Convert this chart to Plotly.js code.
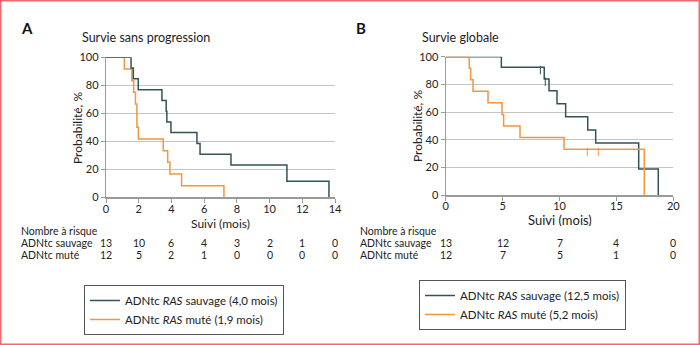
<!DOCTYPE html>
<html>
<head>
<meta charset="utf-8">
<script src="https://cdn.plot.ly/plotly-3.0.1.min.js"></script>
<style>html,body{margin:0;padding:0;background:#fff;}#chart{width:700px;height:345px;}</style>
</head>
<body>
<div id="chart"></div>
<script>
// ---- Panel A : Survie sans progression ----
const aWildTime = [0, 1.53, 1.67, 1.97, 3.42, 3.68, 3.72, 3.97, 5.56, 5.75, 7.64, 11.06, 13.63];
const aWildSurv = [100, 92.3, 84.6, 76.9, 69.2, 61.5, 53.8, 46.2, 38.5, 30.8, 23.1, 11.5, 0];
const aMutTime  = [0, 1.12, 1.58, 1.69, 1.80, 1.89, 1.98, 3.50, 3.77, 3.91, 4.62, 7.21];
const aMutSurv  = [100, 91.7, 83.3, 75.0, 66.7, 50.0, 41.7, 33.3, 25.0, 16.7, 8.3, 0];
const aRiskTimes = [0, 2, 4, 6, 8, 10, 12, 14];
const aRiskWild  = [13, 10, 6, 4, 3, 2, 1, 0];
const aRiskMut   = [12, 5, 2, 1, 0, 0, 0, 0];

// ---- Panel B : Survie globale ----
const bWildTime = [0, 4.89, 8.66, 9.08, 9.78, 10.54, 12.48, 13.18, 16.96, 18.68];
const bWildSurv = [100, 92.3, 84.0, 75.5, 66.0, 56.6, 47.2, 37.7, 18.9, 0];
const bWildCensTime = [8.32, 8.75];
const bWildCensSurv = [92.3, 84.0];
const bMutTime  = [0, 2.07, 2.19, 2.40, 3.72, 4.95, 5.09, 6.53, 10.40, 17.45];
const bMutSurv  = [100, 91.7, 83.3, 75.0, 66.7, 58.3, 50.0, 41.7, 33.3, 0];
const bMutCensTime = [12.44, 13.41];
const bMutCensSurv = [33.3, 33.3];
const bRiskTimes = [0, 5, 10, 15, 20];
const bRiskWild  = [13, 12, 7, 4, 0];
const bRiskMut   = [12, 7, 5, 1, 0];

const labelsWildA = 'ADNtc <i>RAS</i> sauvage (4,0 mois)';
const labelsMutA  = 'ADNtc <i>RAS</i> muté (1,9 mois)';
const labelsWildB = 'ADNtc <i>RAS</i> sauvage (12,5 mois)';
const labelsMutB  = 'ADNtc <i>RAS</i> muté (5,2 mois)';

const DARK = '#33525a';
const ORANGE = '#f4953f';
const FONT = 'Lato, Noto Sans, sans-serif';
const TXT = '#222';

const W = 700, H = 345;
const px = v => v / W;
const py = v => (H - v) / H;

const traces = [
  {x: aMutTime, y: aMutSurv, xaxis: 'x', yaxis: 'y', mode: 'lines', line: {shape: 'hv', color: ORANGE, width: 1.5}, name: labelsMutA, legend: 'legend', legendrank: 2},
  {x: aWildTime, y: aWildSurv, xaxis: 'x', yaxis: 'y', mode: 'lines', line: {shape: 'hv', color: DARK, width: 1.5}, name: labelsWildA, legend: 'legend', legendrank: 1},
  {x: bWildTime, y: bWildSurv, xaxis: 'x2', yaxis: 'y2', mode: 'lines', line: {shape: 'hv', color: DARK, width: 1.5}, name: labelsWildB, legend: 'legend2', legendrank: 1},
  {x: bMutTime, y: bMutSurv, xaxis: 'x2', yaxis: 'y2', mode: 'lines', line: {shape: 'hv', color: ORANGE, width: 1.5}, name: labelsMutB, legend: 'legend2', legendrank: 2},
  {x: bWildCensTime, y: bWildCensSurv.map(v => v - 2), xaxis: 'x2', yaxis: 'y2', mode: 'markers', showlegend: false,
   marker: {symbol: 'line-ns', size: 6, line: {color: DARK, width: 1}}},
  {x: bMutCensTime, y: bMutCensSurv.map(v => v - 2), xaxis: 'x2', yaxis: 'y2', mode: 'markers', showlegend: false,
   marker: {symbol: 'line-ns', size: 6, line: {color: ORANGE, width: 1}}}
];

const axisCommon = {
  showline: true, linecolor: '#9a9a9a', linewidth: 1.2,
  ticks: 'outside', ticklen: 4, tickcolor: '#9a9a9a', tickwidth: 1,
  zeroline: false, fixedrange: true,
  tickfont: {family: FONT, size: 11, color: TXT}
};

const annotations = [];
function addText(text, x, y, opts) {
  annotations.push(Object.assign({text: text, x: x, y: y, xref: 'paper', yref: 'paper',
    showarrow: false, font: {family: FONT, size: 11, color: TXT}, xanchor: 'left', yanchor: 'middle',
    borderpad: 0}, opts || {}));
}
const RFONT = {family: FONT, size: 10.5, color: TXT};
const ROW = {height: 12, borderpad: 0, font: RFONT};
// Panel letters and titles
addText('<b>A</b>', px(20), py(28), {font: {family: FONT, size: 15, color: '#111'}});
addText('<b>B</b>', px(355), py(28), {font: {family: FONT, size: 15, color: '#111'}});
addText('Survie sans progression', px(81), py(37), {font: {family: FONT, size: 12.5, color: TXT}});
addText('Survie globale', px(421), py(37), {font: {family: FONT, size: 12.5, color: TXT}});
// Axis titles
addText('Probabilité, %', px(77), py(128), {textangle: -90, xanchor: 'center', font: {family: FONT, size: 12, color: TXT}});
addText('Probabilité, %', px(417), py(126), {textangle: -90, xanchor: 'center', font: {family: FONT, size: 12, color: TXT}});
addText('Suivi (mois)', px(220.5), py(223.5), {xanchor: 'center', height: 13, font: {family: FONT, size: 12, color: TXT}});
addText('Suivi (mois)', px(560), py(219), {xanchor: 'center', height: 13, font: {family: FONT, size: 13, color: TXT}});
// Risk tables
const R0 = 230.5, R1 = 242.5, R2 = 254.5;
addText('Nombre à risque', px(20), py(R0), ROW);
addText('ADNtc sauvage', px(20), py(R1), ROW);
addText('ADNtc muté', px(20), py(R2), ROW);
addText('Nombre à risque', px(359), py(R0), ROW);
addText('ADNtc sauvage', px(359), py(R1), ROW);
addText('ADNtc muté', px(359), py(R2), ROW);
function riskCell(val, t, xref, yPix) {
  annotations.push({text: String(val), x: t, xref: xref, y: py(yPix), yref: 'paper', showarrow: false,
    xanchor: 'center', yanchor: 'middle', height: 12, borderpad: 0, font: RFONT});
}
aRiskTimes.forEach((t, i) => { riskCell(aRiskWild[i], t, 'x', R1); riskCell(aRiskMut[i], t, 'x', R2); });
bRiskTimes.forEach((t, i) => { riskCell(bRiskWild[i], t, 'x2', R1); riskCell(bRiskMut[i], t, 'x2', R2); });

const legendCommon = {
  bgcolor: '#fff', bordercolor: '#555', borderwidth: 1,
  font: {family: FONT, size: 11.5, color: TXT}, xanchor: 'left', yanchor: 'top',
  itemwidth: 30, tracegroupgap: 0, traceorder: 'normal'
};

const layout = {
  width: W, height: H,
  margin: {l: 0, r: 0, t: 0, b: 0},
  paper_bgcolor: '#fff', plot_bgcolor: '#fff',
  showlegend: true,
  xaxis: Object.assign({}, axisCommon, {domain: [px(106), px(335)], range: [0, 14], tickvals: aRiskTimes, showgrid: false, anchor: 'y', ticklabelstandoff: -3}),
  yaxis: Object.assign({}, axisCommon, {domain: [py(197.3), py(57.3)], range: [0, 100], dtick: 20, showgrid: true, gridcolor: '#c4c4c4', gridwidth: 1, anchor: 'x'}),
  xaxis2: Object.assign({}, axisCommon, {domain: [px(445.7), px(673.3)], range: [0, 20], tickvals: bRiskTimes, showgrid: false, anchor: 'y2', ticklabelstandoff: -4}),
  yaxis2: Object.assign({}, axisCommon, {domain: [py(195.3), py(56.7)], range: [0, 100], dtick: 20, showgrid: true, gridcolor: '#c4c4c4', gridwidth: 1, anchor: 'x2'}),
  legend: Object.assign({}, legendCommon, {x: px(84), y: py(285)}),
  legend2: Object.assign({}, legendCommon, {x: px(419), y: py(280)}),
  annotations: annotations,
  shapes: [{type: 'rect', xref: 'paper', yref: 'paper', x0: px(0.75), x1: px(699.25), y0: py(344.25), y1: py(0.75),
            line: {color: '#ee6a6c', width: 1.5}}]
};

Plotly.newPlot('chart', traces, layout, {staticPlot: true, displayModeBar: false});
</script>
</body>
</html>
